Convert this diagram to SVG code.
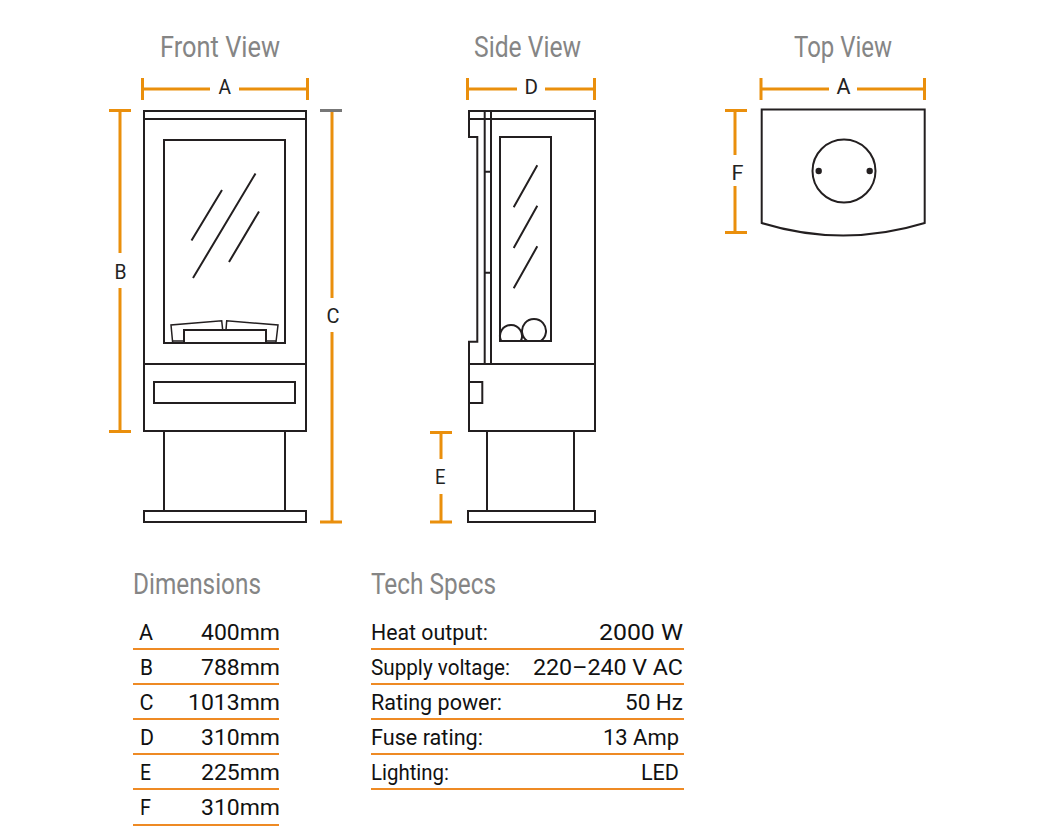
<svg xmlns="http://www.w3.org/2000/svg" width="1047" height="839" viewBox="0 0 1047 839">
<style>
text{font-family:"Roboto","Liberation Sans",sans-serif}
.t{font-size:30px;fill:#858585;font-weight:400}
.d{font-size:20px;fill:#222}
.v{font-size:22px;fill:#111}
.o{stroke:#ea8f0c;stroke-width:3;fill:none}
.g{stroke:#777;stroke-width:3;fill:none}
.k{stroke:#231f20;stroke-width:2;fill:none}
.k2{stroke:#231f20;stroke-width:1.5;fill:none}
.r{stroke:#ee8a24;stroke-width:2;fill:none}
</style>
<rect width="1047" height="839" fill="#fff"/>
<g id="titles">
<text class="t" x="160" y="57" textLength="120" lengthAdjust="spacingAndGlyphs">Front View</text>
<text class="t" x="474" y="57" textLength="107" lengthAdjust="spacingAndGlyphs">Side View</text>
<text class="t" x="794" y="57" textLength="98" lengthAdjust="spacingAndGlyphs">Top View</text>
<text class="t" x="133" y="594" textLength="128" lengthAdjust="spacingAndGlyphs">Dimensions</text>
<text class="t" x="371" y="594" textLength="125" lengthAdjust="spacingAndGlyphs">Tech Specs</text>
</g>
<g id="front-view">
<rect class="k" x="144" y="111" width="162" height="320"/>
<path class="k" d="M144 119H306M144 364H306"/>
<rect class="k" x="164" y="140" width="121" height="203"/>
<rect class="k" x="154" y="382" width="141" height="21"/>
<path class="k" d="M164 431V511M285 431V511"/>
<rect class="k" x="144" y="511" width="162" height="11"/>
<path class="k" d="M222 190L191.500 240.500M255.500 173.500L193 278M259 211.500L229 262"/>
<path class="k2" d="M172.700 343L171 325L221.700 320.700L222.700 330M226 330L226.700 320.700L278 325L276 342M172.700 341H184M266 341H276"/>
<rect class="k" x="184" y="330" width="82" height="13"/>
</g>
<g id="side-view">
<path class="k" d="M469 111H595V431H469V341.700H477.300V137H469Z"/>
<path class="k" d="M469 119H595M469 364H595M484.700 111V364M491 111V364M484.700 171.700H491M484.700 272.700H491"/>
<rect class="k" x="500" y="137" width="51" height="204"/>
<path class="k" d="M537.300 165.300L513.700 207.300M537.300 205.700L513.700 248M537.300 246.300L513.700 288.300"/>
<path class="k" d="M501.200 341A11 11 0 1 1 520.800 341M527.400 341A12 12 0 1 1 540.600 341"/>
<rect class="k" x="469" y="382" width="13.300" height="21"/>
<path class="k" d="M487 431V511M574 431V511"/>
<rect class="k" x="468" y="511" width="127" height="11"/>
</g>
<g id="top-view">
<path class="k" d="M761.700 109.500H924.700V223Q843 248 761.700 223Z"/>
<circle class="k" cx="844" cy="171" r="31.500"/>
<circle cx="818.700" cy="171" r="3.200" fill="#231f20"/>
<circle cx="869.700" cy="171" r="3.200" fill="#231f20"/>
</g>
<g id="dimension-lines">
<path class="o" d="M142.500 78V100M307.500 78V100M143 89H210M239 89H307"/>
<path class="o" d="M109 110.500H131M120 110.500V253M120 288V431.500M109 431.500H131"/>
<path class="g" d="M320 110.500H342"/>
<path class="o" d="M332 112V298M332 332V522M320 522H342"/>
<path class="o" d="M467.500 78V100M594.500 78V100M468 89H517M545 89H594"/>
<path class="o" d="M430 432.500H452M441 432.500V459M441 494V522M430 522H452"/>
<path class="o" d="M761 78V100M924.500 78V100M761 89H829M857 89H924"/>
<path class="o" d="M725 110.500H747M735 110.500V155M735 186V232.500M725 232.500H747"/>
</g>
<g id="dimension-labels">
<text class="d" x="218.500" y="94" textLength="12.500" lengthAdjust="spacingAndGlyphs">A</text>
<text class="d" x="114.500" y="279" textLength="12" lengthAdjust="spacingAndGlyphs">B</text>
<text class="d" x="326.500" y="323" textLength="13" lengthAdjust="spacingAndGlyphs">C</text>
<text class="d" x="524.500" y="94" textLength="13.500" lengthAdjust="spacingAndGlyphs">D</text>
<text class="d" x="435" y="484" textLength="10.500" lengthAdjust="spacingAndGlyphs">E</text>
<text class="d" style="font-size:22px" x="836.500" y="94" textLength="14" lengthAdjust="spacingAndGlyphs">A</text>
<text class="d" x="731.500" y="180" textLength="12" lengthAdjust="spacingAndGlyphs">F</text>
</g>
<g id="dimensions-table">
<path class="r" d="M133 649H279M133 684H279M133 719H279M133 754H279M133 789H279M133 825H279"/>
<text class="v" x="139" y="640" textLength="14" lengthAdjust="spacingAndGlyphs">A</text>
<text class="v" x="140" y="675" textLength="13" lengthAdjust="spacingAndGlyphs">B</text>
<text class="v" x="139.500" y="710" textLength="14" lengthAdjust="spacingAndGlyphs">C</text>
<text class="v" x="140" y="745" textLength="14" lengthAdjust="spacingAndGlyphs">D</text>
<text class="v" x="140" y="780" textLength="11" lengthAdjust="spacingAndGlyphs">E</text>
<text class="v" x="140" y="815" textLength="11" lengthAdjust="spacingAndGlyphs">F</text>
<text class="v" x="201" y="640" textLength="79" lengthAdjust="spacingAndGlyphs">400mm</text>
<text class="v" x="201" y="675" textLength="79" lengthAdjust="spacingAndGlyphs">788mm</text>
<text class="v" x="188" y="710" textLength="92" lengthAdjust="spacingAndGlyphs">1013mm</text>
<text class="v" x="201" y="745" textLength="79" lengthAdjust="spacingAndGlyphs">310mm</text>
<text class="v" x="201" y="780" textLength="79" lengthAdjust="spacingAndGlyphs">225mm</text>
<text class="v" x="201" y="815" textLength="79" lengthAdjust="spacingAndGlyphs">310mm</text>
</g>
<g id="tech-specs-table">
<path class="r" d="M371 649H684M371 684H684M371 719H684M371 754H684M371 789H684"/>
<text class="v" x="371" y="640" textLength="117" lengthAdjust="spacingAndGlyphs">Heat output:</text>
<text class="v" x="371" y="675" textLength="139" lengthAdjust="spacingAndGlyphs">Supply voltage:</text>
<text class="v" x="371" y="710" textLength="131" lengthAdjust="spacingAndGlyphs">Rating power:</text>
<text class="v" x="371" y="745" textLength="112" lengthAdjust="spacingAndGlyphs">Fuse rating:</text>
<text class="v" x="371" y="780" textLength="78" lengthAdjust="spacingAndGlyphs">Lighting:</text>
<text class="v" x="599" y="640" textLength="84" lengthAdjust="spacingAndGlyphs">2000 W</text>
<text class="v" x="533" y="675" textLength="150" lengthAdjust="spacingAndGlyphs">220–240 V AC</text>
<text class="v" x="625" y="710" textLength="58" lengthAdjust="spacingAndGlyphs">50 Hz</text>
<text class="v" x="603" y="745" textLength="76" lengthAdjust="spacingAndGlyphs">13 Amp</text>
<text class="v" x="641" y="780" textLength="38" lengthAdjust="spacingAndGlyphs">LED</text>
</g>
</svg>
